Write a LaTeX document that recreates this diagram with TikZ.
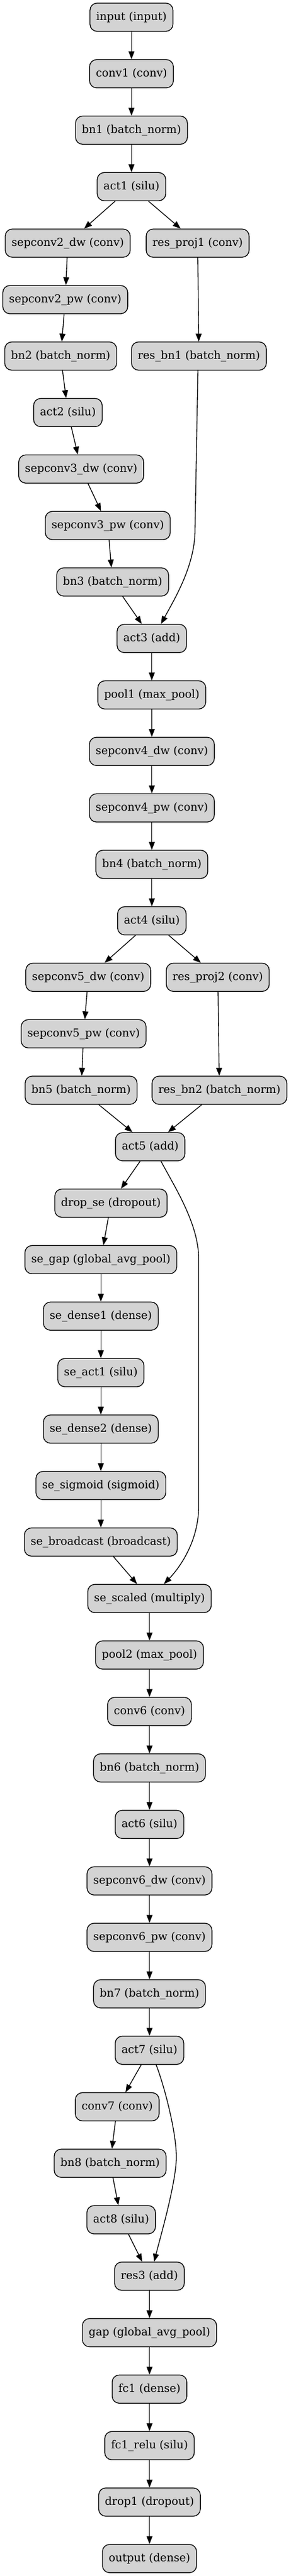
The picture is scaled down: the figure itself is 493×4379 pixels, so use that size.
\documentclass[tikz,border=0pt]{standalone}
\usepackage{fontspec}
\setmainfont{DejaVu Serif}
\usetikzlibrary{arrows.meta,calc}
\definecolor{gvfill}{HTML}{D3D3D3}
\begin{document}
\begin{tikzpicture}[x=0.75pt,y=-0.75pt,
  layer/.style={draw=black, fill=gvfill, line width=1pt, rounded corners=9pt,
    minimum height=36pt, minimum width=54pt, inner xsep=8pt, inner ysep=0pt,
    font=\fontsize{14pt}{16pt}\selectfont},
  edge/.style={draw=black, line width=1pt, -{Triangle[length=10pt,width=7.5pt]}}]
\useasboundingbox (0,0) rectangle (493,4379);
% nodes
\node[layer] (input) at (223.2,29.3) {input (input)};
\node[layer] (conv1) at (223.2,125.3) {conv1 (conv)};
\node[layer] (bn1) at (223.2,221.3) {bn1 (batch\_norm)};
\node[layer] (act1) at (223.2,317.3) {act1 (silu)};
\node[layer] (sc2dw) at (115,413.3) {sepconv2\_dw (conv)};
\node[layer] (resproj1) at (335.5,413.3) {res\_proj1 (conv)};
\node[layer] (sc2pw) at (110.8,509.3) {sepconv2\_pw (conv)};
\node[layer] (bn2) at (103,605.3) {bn2 (batch\_norm)};
\node[layer] (resbn1) at (337.7,605.3) {res\_bn1 (batch\_norm)};
\node[layer] (act2) at (115.3,701.3) {act2 (silu)};
\node[layer] (sc3dw) at (137.8,797.3) {sepconv3\_dw (conv)};
\node[layer] (sc3pw) at (183,893.3) {sepconv3\_pw (conv)};
\node[layer] (bn3) at (191.2,989.3) {bn3 (batch\_norm)};
\node[layer] (act3) at (257.7,1085.3) {act3 (add)};
\node[layer] (pool1) at (257.7,1181.3) {pool1 (max\_pool)};
\node[layer] (sc4dw) at (257.8,1277.3) {sepconv4\_dw (conv)};
\node[layer] (sc4pw) at (257.8,1373.3) {sepconv4\_pw (conv)};
\node[layer] (bn4) at (257.8,1469.3) {bn4 (batch\_norm)};
\node[layer] (act4) at (257.8,1565.3) {act4 (silu)};
\node[layer] (sc5dw) at (149.8,1661.3) {sepconv5\_dw (conv)};
\node[layer] (resproj2) at (369.7,1661.3) {res\_proj2 (conv)};
\node[layer] (sc5pw) at (142,1757.3) {sepconv5\_pw (conv)};
\node[layer] (bn5) at (137.7,1853.3) {bn5 (batch\_norm)};
\node[layer] (resbn2) at (372.5,1853.3) {res\_bn2 (batch\_norm)};
\node[layer] (act5) at (255,1949.3) {act5 (add)};
\node[layer] (dropse) at (188.3,2045.3) {drop\_se (dropout)};
\node[layer] (segap) at (171.2,2141.3) {se\_gap (global\_avg\_pool)};
\node[layer] (sedense1) at (171.2,2237.3) {se\_dense1 (dense)};
\node[layer] (seact1) at (171.2,2333.3) {se\_act1 (silu)};
\node[layer] (sedense2) at (171.2,2429.3) {se\_dense2 (dense)};
\node[layer] (sesig) at (171.2,2525.3) {se\_sigmoid (sigmoid)};
\node[layer] (sebc) at (171.2,2621.3) {se\_broadcast (broadcast)};
\node[layer] (sescaled) at (253.8,2717.3) {se\_scaled (multiply)};
\node[layer] (pool2) at (253.8,2813.3) {pool2 (max\_pool)};
\node[layer] (conv6) at (253.8,2909.3) {conv6 (conv)};
\node[layer] (bn6) at (253.8,3005.3) {bn6 (batch\_norm)};
\node[layer] (act6) at (253.8,3101.3) {act6 (silu)};
\node[layer] (sc6dw) at (253.8,3197.3) {sepconv6\_dw (conv)};
\node[layer] (sc6pw) at (253.8,3293.3) {sepconv6\_pw (conv)};
\node[layer] (bn7) at (253.8,3389.3) {bn7 (batch\_norm)};
\node[layer] (act7) at (253.8,3485.3) {act7 (silu)};
\node[layer] (conv7) at (199,3581.3) {conv7 (conv)};
\node[layer] (bn8) at (187,3677.3) {bn8 (batch\_norm)};
\node[layer] (act8) at (205.7,3773.3) {act8 (silu)};
\node[layer] (res3) at (253.7,3869.3) {res3 (add)};
\node[layer] (gap) at (253.8,3965.3) {gap (global\_avg\_pool)};
\node[layer] (fc1) at (253.8,4061.3) {fc1 (dense)};
\node[layer] (fc1relu) at (253.8,4157.3) {fc1\_relu (silu)};
\node[layer] (drop1) at (253.8,4253.3) {drop1 (dropout)};
\node[layer] (output) at (253.8,4349.3) {output (dense)};
% edges
\draw[edge] (input) -- (conv1);
\draw[edge] (conv1) -- (bn1);
\draw[edge] (bn1) -- (act1);
\draw[edge] (act1) -- (sc2dw);
\draw[edge] (act1) -- (resproj1);
\draw[edge] (sc2dw) -- (sc2pw);
\draw[edge] (sc2pw) -- (bn2);
\draw[edge] (resproj1) -- (resbn1);
\draw[edge] (bn2) -- (act2);
\draw[edge] (act2) -- (sc3dw);
\draw[edge] (sc3dw) -- (sc3pw);
\draw[edge] (sc3pw) -- (bn3);
\draw[edge] (bn3) -- (act3);
\draw[edge] ($(resbn1.south)+(-1.7,0)$) -- (331,901)
  .. controls (331,961) and (297,1017) .. ($(act3.north)+(15.6,0)$);
\draw[edge] (act3) -- (pool1);
\draw[edge] (pool1) -- (sc4dw);
\draw[edge] (sc4dw) -- (sc4pw);
\draw[edge] (sc4pw) -- (bn4);
\draw[edge] (bn4) -- (act4);
\draw[edge] (act4) -- (sc5dw);
\draw[edge] (act4) -- (resproj2);
\draw[edge] (sc5dw) -- (sc5pw);
\draw[edge] (sc5pw) -- (bn5);
\draw[edge] (resproj2) -- (resbn2);
\draw[edge] (bn5) -- (act5);
\draw[edge] (resbn2) -- (act5);
\draw[edge] (act5) -- (dropse);
\draw[edge] ($(act5.south)+(18.3,0)$) .. controls (296,2017) and (337.3,2080) .. (337.3,2140)
  -- (337.3,2560) .. controls (337.3,2620) and (305,2665) .. ($(sescaled.north)+(24.5,0)$);
\draw[edge] (dropse) -- (segap);
\draw[edge] (segap) -- (sedense1);
\draw[edge] (sedense1) -- (seact1);
\draw[edge] (seact1) -- (sedense2);
\draw[edge] (sedense2) -- (sesig);
\draw[edge] (sesig) -- (sebc);
\draw[edge] (sebc) -- (sescaled);
\draw[edge] (sescaled) -- (pool2);
\draw[edge] (pool2) -- (conv6);
\draw[edge] (conv6) -- (bn6);
\draw[edge] (bn6) -- (act6);
\draw[edge] (act6) -- (sc6dw);
\draw[edge] (sc6dw) -- (sc6pw);
\draw[edge] (sc6pw) -- (bn7);
\draw[edge] (bn7) -- (act7);
\draw[edge] (act7) -- (conv7);
\draw[edge] (conv7) -- (bn8);
\draw[edge] (bn8) -- (act8);
\draw[edge] (act8) -- (res3);
\draw[edge] ($(act7.south)+(11.2,0)$) .. controls (276,3537) and (299.3,3620) .. (299.3,3667)
  .. controls (299.3,3710) and (271.3,3806) .. ($(res3.north)+(8,0)$);
\draw[edge] (res3) -- (gap);
\draw[edge] (gap) -- (fc1);
\draw[edge] (fc1) -- (fc1relu);
\draw[edge] (fc1relu) -- (drop1);
\draw[edge] (drop1) -- (output);
\end{tikzpicture}
\end{document}
